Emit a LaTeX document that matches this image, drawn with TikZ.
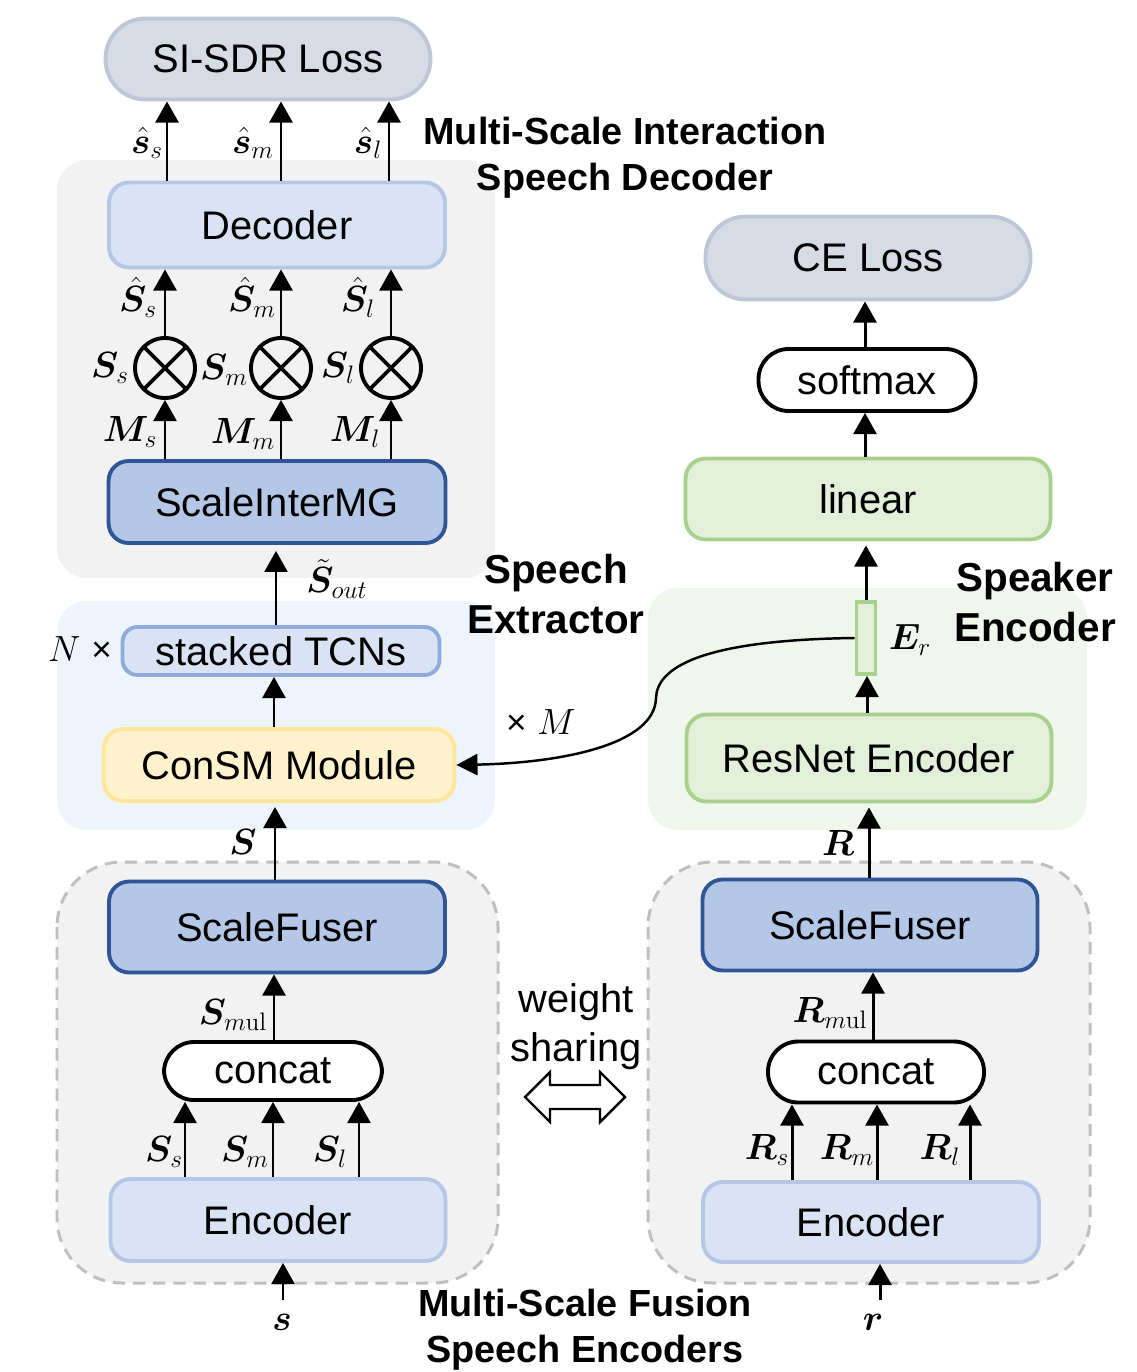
\documentclass[tikz,border=0pt]{standalone}
\usepackage{amsmath}
\usepackage{bm}
\usepackage[no-math]{fontspec}
\setmainfont{Liberation Sans}
\usetikzlibrary{arrows.meta,calc}
\definecolor{lossfill}{HTML}{D6DCE5}
\definecolor{lossdraw}{HTML}{BDC7D6}
\definecolor{lbfill}{HTML}{DAE3F3}
\definecolor{lbdraw}{HTML}{B4C7E7}
\definecolor{dbfill}{HTML}{B4C7E7}
\definecolor{dbdraw}{HTML}{2F5597}
\definecolor{tcndraw}{HTML}{8FAADC}
\definecolor{ylfill}{HTML}{FFF2CC}
\definecolor{yldraw}{HTML}{FFE699}
\definecolor{grfill}{HTML}{E2F0D9}
\definecolor{grdraw}{HTML}{A9D18E}
\definecolor{panelgray}{HTML}{F2F2F2}
\definecolor{panelblue}{HTML}{EDF4FC}
\definecolor{panelgreen}{HTML}{EFF6EB}
\definecolor{dashgray}{HTML}{BFBFBF}
\begin{document}
\begin{tikzpicture}[x=0.02cm,y=-0.02cm,
  box/.style={draw, line width=2.2pt, rounded corners=0.4cm, inner sep=0pt,
    font=\fontsize{22.7}{26}\selectfont},
  lossbox/.style={box, fill=lossfill, draw=lossdraw, rounded corners=0.8cm},
  lightbox/.style={box, fill=lbfill, draw=lbdraw},
  darkbox/.style={box, fill=dbfill, draw=dbdraw},
  pill/.style={box, fill=white, draw=black, rounded corners=0.6cm},
  greenbox/.style={box, fill=grfill, draw=grdraw},
  otimesnode/.style={circle, draw, line width=2.2pt, minimum size=1.2cm, inner sep=0pt,
    path picture={\draw[line width=2.2pt] (path picture bounding box.north west) -- (path picture bounding box.south east)
      (path picture bounding box.north east) -- (path picture bounding box.south west);}},
  lbl/.style={inner sep=0pt, font=\fontsize{22}{24}\selectfont},
  paneltitle/.style={inner sep=0pt, align=center, font=\bfseries\fontsize{21.5}{26}\selectfont},
  bigtitle/.style={inner sep=0pt, align=center, font=\bfseries\fontsize{23}{28}\selectfont},
  arr/.style={line width=1.7pt, -{Triangle[length=12pt,width=13pt]}},
  panel/.style={rounded corners=0.6cm},
  dpanel/.style={fill=panelgray, draw=dashgray, line width=1.7pt, dash pattern=on 7pt off 4.5pt, rounded corners=1.3cm}
]
\useasboundingbox (0,0) rectangle (1136,1372);

% panels
\fill[panelgray, panel] (57,160) rectangle (495,578);
\fill[panelblue, panel] (57,601) rectangle (495,830);
\fill[panelgreen, panel] (648,588) rectangle (1087,830);
\draw[dpanel] (57,862) rectangle (498,1283);
\draw[dpanel] (648,862) rectangle (1090,1283);

% left column nodes
\node[lossbox, minimum width=6.5cm, minimum height=1.62cm] (loss) at (268,59) {SI-SDR Loss};
\node[lightbox, minimum width=6.72cm, minimum height=1.7cm] (dec) at (277,225) {Decoder};
\node[otimesnode] (ms) at (165,368) {};
\node[otimesnode] (mm) at (281,368) {};
\node[otimesnode] (ml) at (391,368) {};
\node[darkbox, minimum width=6.74cm, minimum height=1.64cm] (mg) at (277,502) {ScaleInterMG};
\node[lightbox, draw=tcndraw, rounded corners=0.3cm, minimum width=6.34cm, minimum height=0.96cm] (tcn) at (281,651) {stacked TCNs};
\node[box, fill=ylfill, draw=yldraw, minimum width=7.02cm, minimum height=1.44cm] (consm) at (279,765) {ConSM Module};
\node[darkbox, minimum width=6.72cm, minimum height=1.82cm] (sfl) at (277,927) {ScaleFuser};
\node[pill, minimum width=4.36cm, minimum height=1.16cm] (catl) at (273,1071) {concat};
\node[lightbox, minimum width=6.7cm, minimum height=1.64cm] (encl) at (278,1220) {Encoder};
\coordinate (sin) at (283,1300);

% right column nodes
\node[lossbox, minimum width=6.5cm, minimum height=1.66cm] (ce) at (868,258) {CE Loss};
\node[pill, minimum width=4.34cm, minimum height=1.24cm] (soft) at (867,380) {softmax};
\node[greenbox, minimum width=7.3cm, minimum height=1.62cm] (lin) at (868,499) {linear};
\node[draw=grdraw, fill=grfill, line width=2.2pt, minimum width=0.38cm, minimum height=1.44cm, inner sep=0pt] (er) at (866,638) {};
\node[greenbox, minimum width=7.3cm, minimum height=1.74cm] (res) at (869,758) {ResNet Encoder};
\node[darkbox, minimum width=6.7cm, minimum height=1.82cm] (sfr) at (870,925) {ScaleFuser};
\node[pill, minimum width=4.32cm, minimum height=1.22cm] (catr) at (876,1072) {concat};
\node[lightbox, minimum width=6.72cm, minimum height=1.6cm] (encr) at (871,1222) {Encoder};
\coordinate (rin) at (880,1300);

% left arrows
\draw[arr] (167,0 |- dec.north) -- (167,0 |- loss.south);
\draw[arr] (281,0 |- dec.north) -- (281,0 |- loss.south);
\draw[arr] (389,0 |- dec.north) -- (389,0 |- loss.south);
\draw[arr] (ms.north) -- (ms |- dec.south);
\draw[arr] (mm.north) -- (mm |- dec.south);
\draw[arr] (ml.north) -- (ml |- dec.south);
\draw[arr] (ms |- mg.north) -- (ms.south);
\draw[arr] (mm |- mg.north) -- (mm.south);
\draw[arr] (ml |- mg.north) -- (ml.south);
\draw[arr, shorten >=3.4pt] (276,0 |- tcn.north) -- (276,0 |- mg.south);
\draw[arr] (274,0 |- consm.north) -- (274,0 |- tcn.south);
\draw[arr, shorten >=2.3pt] (275,0 |- sfl.north) -- (275,0 |- consm.south);
\draw[arr] (274,0 |- catl.north) -- (274,0 |- sfl.south);
\draw[arr] (185,0 |- encl.north) -- (185,0 |- catl.south);
\draw[arr] (273,0 |- encl.north) -- (273,0 |- catl.south);
\draw[arr] (359,0 |- encl.north) -- (359,0 |- catl.south);
\draw[arr] (sin) -- (sin |- encl.south);

% right arrows
\draw[arr] (865,0 |- soft.north) -- (865,0 |- ce.south);
\draw[arr] (865,0 |- lin.north) -- (865,0 |- soft.south);
\draw[arr, shorten >=2.3pt] (er.north) -- (er |- lin.south);
\draw[arr] (867,0 |- res.north) -- (867,0 |- er.south);
\draw[arr, shorten >=2.3pt] (869,0 |- sfr.north) -- (869,0 |- res.south);
\draw[arr] (873,0 |- catr.north) -- (873,0 |- sfr.south);
\draw[arr] (792,0 |- encr.north) -- (792,0 |- catr.south);
\draw[arr] (877,0 |- encr.north) -- (877,0 |- catr.south);
\draw[arr] (970,0 |- encr.north) -- (970,0 |- catr.south);
\draw[arr] (rin) -- (rin |- encr.south);

% speaker embedding to ConSM
\draw[line width=1.4pt, -{Triangle[length=12pt,width=12pt]}] (er.west) .. controls (700,640) and (657,668) .. (656,698) .. controls (655,745) and (560,763) .. (consm.east);

% weight sharing hollow arrow
\draw[line width=1.4pt, fill=white] (525,1097) -- (550,1072) -- (550,1085) -- (600,1085) -- (600,1072) -- (625,1097) -- (600,1122) -- (600,1109) -- (550,1109) -- (550,1122) -- cycle;
\node[lbl, font=\fontsize{22.7}{28}\selectfont, align=center] (ws) at (576,1027) {weight\\sharing};

% labels
\node[lbl] (l1) at (147,143) {$\hat{\bm{s}}_s$};
\node[lbl] (l2) at (253,143) {$\hat{\bm{s}}_m$};
\node[lbl] (l3) at (368,143) {$\hat{\bm{s}}_l$};
\node[lbl] (l4) at (138,297) {$\hat{\bm{S}}_s$};
\node[lbl] (l5) at (252,297) {$\hat{\bm{S}}_m$};
\node[lbl] (l6) at (358,297) {$\hat{\bm{S}}_l$};
\node[lbl] (l7) at (110,368) {$\bm{S}_s$};
\node[lbl] (l8) at (224,370) {$\bm{S}_m$};
\node[lbl] (l9) at (338,368) {$\bm{S}_l$};
\node[lbl] (l10) at (130,432) {$\bm{M}_s$};
\node[lbl] (l11) at (243,434) {$\bm{M}_m$};
\node[lbl] (l12) at (355,432) {$\bm{M}_l$};
\node[lbl] (l13) at (337,579) {$\tilde{\bm{S}}_{out}$};
\node[lbl] (l14) at (80,649) {$N$ \fontsize{20}{24}\selectfont ×};
\node[lbl] (l15) at (243,842) {$\bm{S}$};
\node[lbl] (l16) at (233,1015) {$\bm{S}_{m\mathrm{ul}}$};
\node[lbl] (l17) at (164,1152) {$\bm{S}_s$};
\node[lbl] (l18) at (245,1152) {$\bm{S}_m$};
\node[lbl] (l19) at (330,1152) {$\bm{S}_l$};
\node[lbl] (l20) at (282,1322) {$\bm{s}$};
\node[lbl] (l21) at (910,640) {$\bm{E}_r$};
\node[lbl] (l22) at (838,843) {$\bm{R}$};
\node[lbl] (l23) at (830,1013) {$\bm{R}_{m\mathrm{ul}}$};
\node[lbl] (l24) at (767,1150) {$\bm{R}_s$};
\node[lbl] (l25) at (847,1150) {$\bm{R}_m$};
\node[lbl] (l26) at (940,1150) {$\bm{R}_l$};
\node[lbl] (l27) at (873,1322) {$\bm{r}$};
\node[lbl] (l28) at (541,722) {{\fontsize{20}{24}\selectfont ×} $M$};

% panel titles
\node[paneltitle] (t1) at (625,158) {Multi-Scale Interaction\\Speech Decoder};
\node[bigtitle] (t2) at (556,594) {Speech\\Extractor};
\node[bigtitle] (t3) at (1035,602) {Speaker\\Encoder};
\node[paneltitle] (t4) at (585,1330) {Multi-Scale Fusion\\Speech Encoders};
\end{tikzpicture}
\end{document}
